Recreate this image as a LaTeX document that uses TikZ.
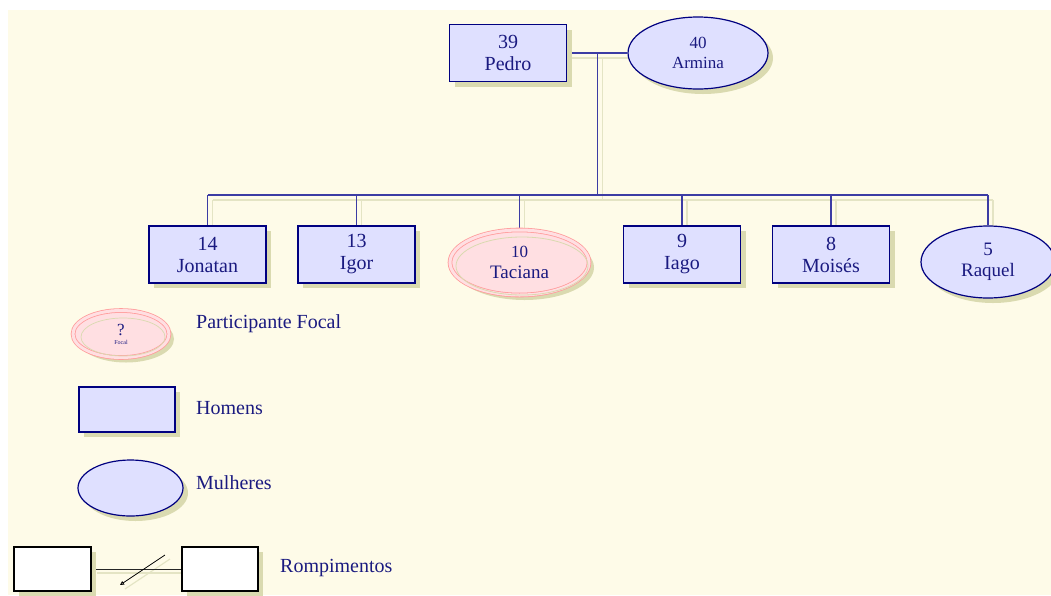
\documentclass[tikz,border=0pt]{standalone}
\usepackage{fontspec}
\setmainfont{Liberation Serif}
\usetikzlibrary{shapes.geometric,shadows,arrows.meta,calc}
\definecolor{bgc}{HTML}{FEFBE8}
\definecolor{shd}{HTML}{DADAB0}
\definecolor{shl}{HTML}{E4E4C4}
\definecolor{navy}{HTML}{000080}
\definecolor{txt}{HTML}{1A1A80}
\definecolor{lav}{HTML}{DFE0FF}
\definecolor{conc}{HTML}{3C3CA4}
\definecolor{pinkf}{HTML}{FFDFE2}
\definecolor{pinkl}{HTML}{FF9C9C}
\pgfdeclarelayer{back}
\pgfsetlayers{back,main}
\tikzset{
  shad/.style={general shadow={fill=shd, shadow xshift=5pt, shadow yshift=-5pt}},
  man/.style={rectangle, draw=navy, line width=1.6pt, fill=lav, shad,
    minimum width=117pt, minimum height=57pt, inner sep=0pt, align=center,
    text=txt, font=\fontsize{20}{22}\selectfont},
  woman/.style={ellipse, draw=navy, line width=1.2pt, fill=lav, shad,
    minimum width=137pt, minimum height=70pt, inner sep=0pt, align=center,
    text=txt, font=\fontsize{19}{21}\selectfont},
  focal/.style={ellipse, draw=pinkl, line width=0.8pt, double=pinkf, double distance=3pt,
    fill=pinkf, shad, inner sep=0pt, align=center, text=txt},
  blank/.style={rectangle, draw=black, line width=1.6pt, fill=white, shad,
    inner sep=0pt},
  conn/.style={draw=conc, line width=1.4pt},
  shline/.style={draw=shl, line width=1.6pt},
  lbl/.style={anchor=west, inner sep=0pt, text=txt, font=\fontsize{20}{22}\selectfont},
}
\begin{document}
\begin{tikzpicture}[x=1pt,y=-1pt]
\useasboundingbox (0,0) rectangle (1051,595);
\begin{pgfonlayer}{back}
\fill[bgc] (8,10) rectangle (1051,595);
\end{pgfonlayer}

% parents
\node[man] (pedro) at (508,53) {39\\Pedro};
\node[woman, minimum width=140pt, minimum height=72pt,
      font=\fontsize{17}{20}\selectfont] (armina) at (698,53) {40\\Armina};

% children
\node[man] (jon)  at (207.5,254.5) {14\\Jonatan};
\node[man] (igor) at (356.5,254.5) {13\\Igor};
\node[focal, minimum width=139pt, minimum height=65pt,
      font=\fontsize{19}{21}\selectfont] (tac) at (519.5,262.5)
      {{\fontsize{17}{17}\selectfont 10}\\Taciana};
\draw[shd, line width=0.8pt] (522,266) ellipse [x radius=66, y radius=29];
\node[man] (iago) at (682,254.5) {9\\Iago};
\node[man] (moi)  at (831,254.5) {8\\Moisés};
\node[woman, minimum width=134pt, minimum height=72pt] (raq) at (988,262) {5\\Raquel};

% connectors
\coordinate (mid) at ($(pedro.east)!0.5!(armina.west)$);
\coordinate (sib) at ($(mid)+(0,142)$);
\begin{pgfonlayer}{back}
\begin{scope}[transform canvas={shift={(5,5)}}]
  \draw[shline] (pedro.east) -- (armina.west);
  \draw[shline] (mid) -- (sib);
  \draw[shline] (jon.north |- sib) -- (raq.north |- sib);
  \foreach \n in {jon,igor,tac,iago,moi,raq}
    \draw[shline] (\n.north) -- (\n.north |- sib);
\end{scope}
\draw[conn] (pedro.east) -- (armina.west);
\draw[conn] (mid) -- (sib);
\draw[conn] (jon.north |- sib) -- (raq.north |- sib);
\foreach \n in {jon,igor,tac,iago,moi,raq}
  \draw[conn] (\n.north) -- (\n.north |- sib);
\end{pgfonlayer}

% legend
\node[focal, minimum width=96pt, minimum height=47pt] (lf) at (121,334)
  {{\fontsize{17}{15}\selectfont ?}\\[-3pt]{\fontsize{6}{6}\selectfont Focal}};
\draw[shd, line width=0.7pt] (123,337) ellipse [x radius=42, y radius=19];
\node[lbl] (tf) at (196,324) {Participante Focal};

\node[man, minimum width=96pt, minimum height=45pt] (lh) at (127,409.5) {};
\node[lbl] (th) at (196,408) {Homens};

\node[woman, minimum width=105pt, minimum height=56pt] (lm) at (130.5,488) {};
\node[lbl] (tm) at (196,483) {Mulheres};

\node[blank, minimum width=77pt, minimum height=44pt] (rl) at (52.5,569) {};
\node[blank, minimum width=76pt, minimum height=44pt] (rr) at (220,569) {};
\coordinate (sa) at (120,585);
\coordinate (sb) at (165,555);
\begin{pgfonlayer}{back}
\begin{scope}[transform canvas={shift={(5,4)}}]
  \draw[shline, line width=1.2pt] (rl.east) -- (rr.west);
  \draw[shline, line width=1.2pt] (sa) -- (sb);
\end{scope}
\draw[black!85, line width=0.8pt] (rl.east) -- (rr.west);
\end{pgfonlayer}
\draw[black, line width=0.8pt, {Triangle[open,length=4pt,width=4pt]}-] (sa) -- (sb);
\node[lbl] (tr) at (280,568) {Rompimentos};
\end{tikzpicture}
\end{document}
